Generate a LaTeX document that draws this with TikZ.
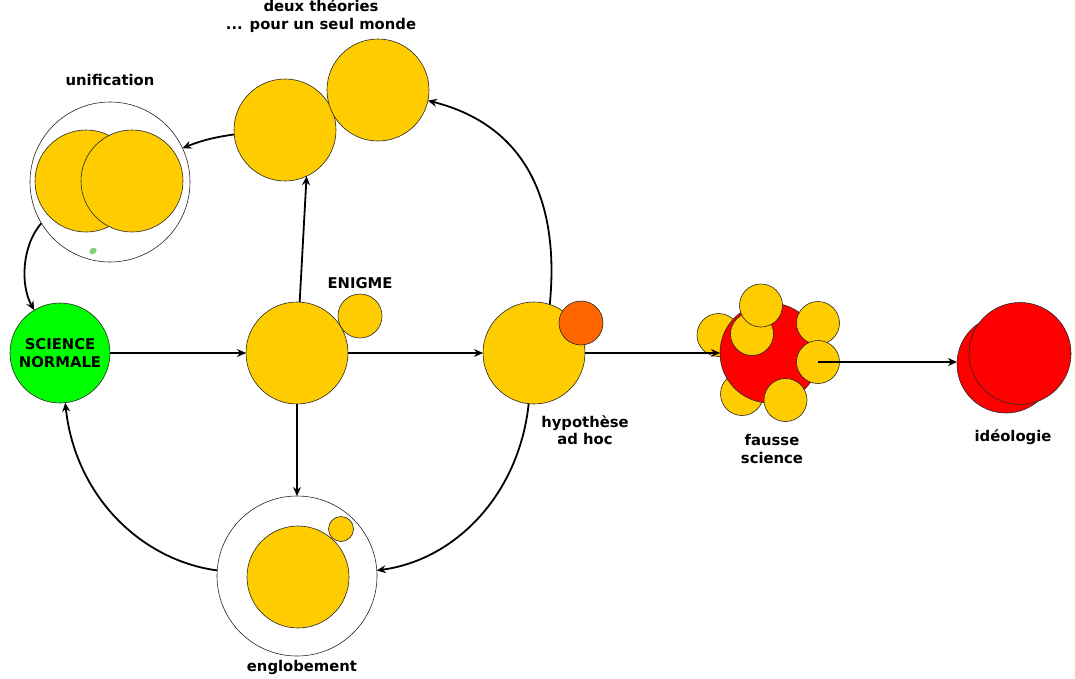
\documentclass[tikz,border=0pt]{standalone}
\usepackage{fontspec}
\setmainfont{DejaVu Sans}
\usetikzlibrary{arrows.meta,shapes.geometric}
\definecolor{jaune}{HTML}{FFCC00}
\definecolor{vert}{HTML}{00FF00}
\definecolor{rouge}{HTML}{FF0000}
\definecolor{orangec}{HTML}{FF6600}
\definecolor{dotgreen}{HTML}{80D080}
\begin{document}
\begin{tikzpicture}[x=1pt,y=-1pt,
  disc/.style={circle, draw=black!85, line width=0.6pt, inner sep=0pt, outer sep=0pt, minimum size=#1},
  lbl/.style={font=\bfseries\fontsize{14.8}{17.5}\selectfont, align=center, inner sep=0pt},
  arr/.style={line width=1.8pt, -{Stealth[length=9pt,width=8pt,inset=3pt]}}]
\useasboundingbox (0,0) rectangle (1075,678);

% science normale
\node[disc=100pt, fill=vert, lbl] (sn) at (60,353) {SCIENCE\\NORMALE};

% central problem + enigme
\node[disc=102pt, fill=jaune] (c1) at (297,353) {};
\node[disc=44pt, fill=jaune] (enig) at (360,316) {};
\node[lbl] (tenig) at (360,283) {ENIGME};

% hypothese ad hoc
\node[disc=102pt, fill=jaune] (hyp) at (534,353) {};
\node[disc=44pt, fill=orangec] (adhoc) at (581,323) {};
\node[lbl] (thyp) at (585,430) {hypoth\`ese\\ad hoc};

% deux theories
\node[disc=102pt, fill=jaune] (a) at (285,130) {};
\node[disc=102pt, fill=jaune] (b) at (378,90) {};
\node[lbl] (tdeux) at (321,16) {deux th\'eories\\... pour un seul monde};

% unification
\node[disc=160pt, fill=white] (unif) at (110,182) {};
\node[disc=102pt, fill=jaune] (u1) at (86,181) {};
\node[disc=102pt, fill=jaune] (u2) at (132,181) {};
\node[ellipse, fill=dotgreen, minimum width=8pt, minimum height=6pt, inner sep=0pt, rotate=30] (dot) at (93,251) {};
\node[lbl] (tunif) at (110,80) {unification};

% englobement
\node[disc=160pt, fill=white] (eng) at (297,576) {};
\node[disc=102pt, fill=jaune] (e1) at (298,577) {};
\node[disc=25pt, fill=jaune] (e2) at (341,529) {};
\node[lbl] (teng) at (302,667) {englobement};

% fausse science
\node[disc=43pt, fill=jaune] (fs1) at (718.5,335) {};
\node[disc=43pt, fill=jaune] (fs6) at (742,394) {};
\node[disc=100pt, fill=rouge] (fs) at (770,353) {};
\node[disc=43pt, fill=jaune] (fs3) at (752,334) {};
\node[disc=43pt, fill=jaune] (fs2) at (761,305.5) {};
\node[disc=43pt, fill=jaune] (fs4) at (818,323) {};
\node[disc=43pt, fill=jaune] (fs5) at (818,362) {};
\node[disc=43pt, fill=jaune] (fs7) at (785.5,400) {};
\node[lbl] (tfs) at (772,449) {fausse\\science};

% ideologie
\node[disc=98pt, fill=rouge] (ideoB) at (1006,364) {};
\node[disc=102pt, fill=rouge] (ideoA) at (1020,353.5) {};
\node[lbl] (tideo) at (1013,437) {id\'eologie};

% connectors
\draw[arr] (sn) -- (c1);
\draw[arr] (c1) -- (hyp);
\draw[arr] (hyp) -- (fs);
\draw[arr] (fs5.center) -- (fs5.center -| ideoB.west);
\draw[arr] (c1.87) -- (a.-65);
\draw[arr] (c1.south) -- (eng.north);
\draw[arr] (hyp.72) .. controls (560,200) and (525,125) .. (b.-12);
\draw[arr] (hyp.-96) .. controls (519,495) and (455,560) .. (eng.4);
\draw[arr] (eng.176) .. controls (140,560) and (75,495) .. (sn.-84);
\draw[arr] (unif.211) .. controls (22,245) and (20,285) .. (sn.121);
\draw[arr] (a.185) .. controls (215,137) and (200,141) .. (unif.25);
\end{tikzpicture}
\end{document}
